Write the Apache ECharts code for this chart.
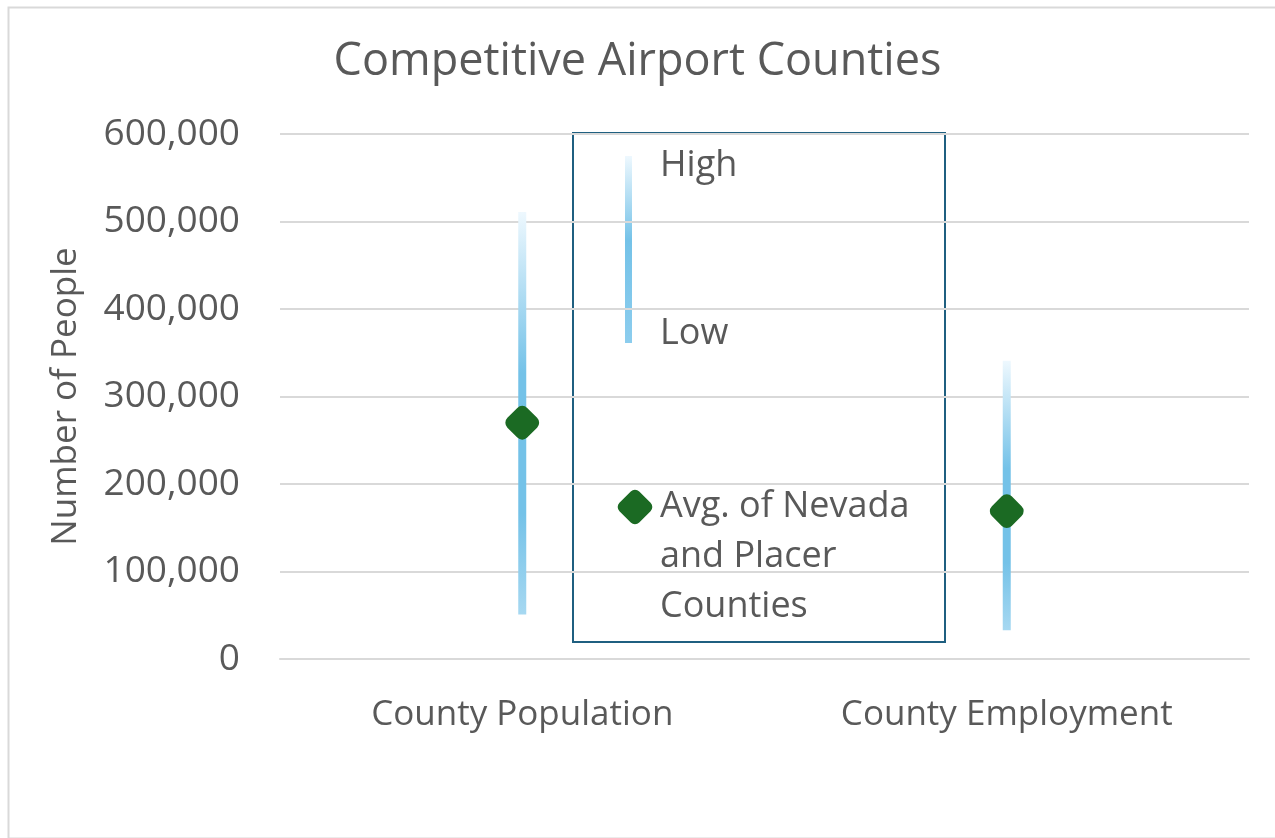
<!DOCTYPE html>
<html>
<head>
<meta charset="utf-8">
<script src="https://cdn.jsdelivr.net/npm/echarts@6/dist/echarts.min.js"></script>
<style>
  html, body { margin: 0; padding: 0; background: #fff; }
  #chart { width: 1275px; height: 838px; }
</style>
</head>
<body>
<div id="chart"></div>
<script>
// data
const categories = ["County Population", "County Employment"];
const lowValues = [51000, 33000];
const highValues = [511000, 341000];
const avgValues = [270000, 169000];
const yTicks = [0, 100000, 200000, 300000, 400000, 500000, 600000];
const seriesNames = ["High", "Low", "Avg. of Nevada\nand Placer\nCounties"];

const textColor = "#595959";
const fontFamily = "'Open Sans', 'Noto Sans', sans-serif";
const green = "#1b6a23";

const chart = echarts.init(document.getElementById("chart"));

// 对线条使用从上到下的渐变
const lineGradient = () => new echarts.graphic.LinearGradient(0, 0, 0, 1, [
  { offset: 0, color: "#eef8fe" },
  { offset: 0.4, color: "#74c2e8" },
  { offset: 0.75, color: "#74c2e8" },
  { offset: 1, color: "#a6d8f1" },
]);

const option = {
  animation: false,
  backgroundColor: "#ffffff",
  title: {
    text: "Competitive Airport Counties",
    left: "center",
    top: 35,
    textStyle: {
      fontFamily: fontFamily,
      fontSize: 45,
      fontWeight: "normal",
      color: textColor,
    },
  },
  grid: {
    left: 280,
    right: 26,
    top: 134,
    bottom: 179,
  },
  xAxis: {
    type: "category",
    data: categories,
    axisLine: { lineStyle: { color: "#d9d9d9", width: 2 } },
    axisTick: { show: false },
    axisLabel: {
      fontFamily: fontFamily,
      fontSize: 35,
      color: textColor,
      margin: 39,
    },
  },
  yAxis: {
    type: "value",
    min: yTicks[0],
    max: yTicks[yTicks.length - 1],
    interval: 100000,
    name: "Number of People",
    nameLocation: "middle",
    nameGap: 196,
    nameTextStyle: {
      fontFamily: fontFamily,
      fontSize: 35,
      color: textColor,
    },
    axisLine: { show: false },
    axisTick: { show: false },
    splitLine: { lineStyle: { color: "#d9d9d9", width: 2 } },
    axisLabel: {
      fontFamily: fontFamily,
      fontSize: 37,
      color: textColor,
      margin: 40,
      formatter: (v) => v.toLocaleString("en-US"),
    },
  },
  series: [
    {
      name: "base",
      type: "bar",
      stack: "range",
      barWidth: 8,
      silent: true,
      itemStyle: { color: "transparent" },
      data: lowValues,
    },
    {
      name: "range",
      type: "bar",
      stack: "range",
      barWidth: 8,
      itemStyle: { color: lineGradient() },
      data: highValues.map((h, i) => h - lowValues[i]),
    },
    {
      name: seriesNames[2],
      type: "scatter",
      symbol: "roundRect",
      symbolSize: 28,
      symbolRotate: 45,
      itemStyle: { color: green, opacity: 1 },
      z: 5,
      data: avgValues,
    },
  ],
  graphic: [
    {
      type: "rect",
      left: 6,
      top: 5,
      shape: { width: 1275, height: 831 },
      style: { fill: "none", stroke: "#d9d9d9", lineWidth: 2 },
      z: -1,
    },
    {
      type: "group",
      left: 572,
      top: 132,
      z: 10,
      children: [
        {
          type: "rect",
          shape: { x: 0, y: 0, width: 372, height: 509 },
          style: { fill: "#ffffff", stroke: "#1f5f80", lineWidth: 2 },
        },
        {
          type: "rect",
          shape: { x: 52, y: 23, width: 7, height: 187 },
          style: {
            fill: new echarts.graphic.LinearGradient(0, 0, 0, 1, [
              { offset: 0, color: "#eef8fe" },
              { offset: 0.45, color: "#74c2e8" },
              { offset: 1, color: "#8ccdee" },
            ]),
          },
        },
        {
          type: "text",
          x: 87,
          y: 33,
          style: {
            text: seriesNames[0],
            fontFamily: fontFamily,
            fontSize: 36,
            fill: textColor,
            verticalAlign: "middle",
          },
        },
        {
          type: "text",
          x: 87,
          y: 201,
          style: {
            text: seriesNames[1],
            fontFamily: fontFamily,
            fontSize: 36,
            fill: textColor,
            verticalAlign: "middle",
          },
        },
        {
          type: "rect",
          x: 62,
          y: 374,
          rotation: Math.PI / 4,
          shape: { x: -14, y: -14, width: 28, height: 28, r: 6 },
          style: { fill: green },
        },
        {
          type: "text",
          x: 87,
          y: 349,
          style: {
            text: seriesNames[2],
            fontFamily: fontFamily,
            fontSize: 36,
            lineHeight: 50,
            fill: textColor,
            verticalAlign: "top",
          },
        },
      ],
    },
  ],
};

chart.setOption(option);
</script>
</body>
</html>
